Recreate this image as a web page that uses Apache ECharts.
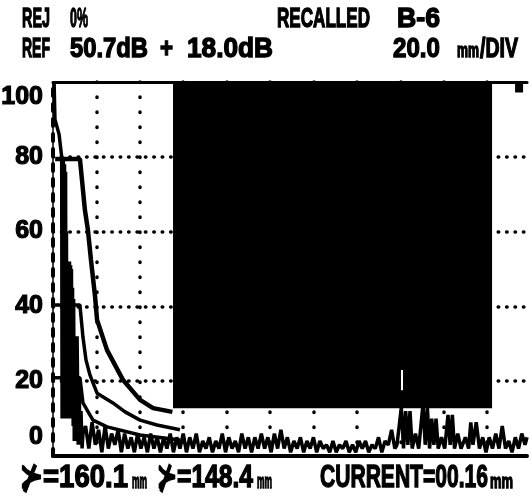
<!DOCTYPE html>
<html>
<head>
<meta charset="utf-8">
<script src="https://cdn.jsdelivr.net/npm/echarts@6/dist/echarts.min.js"></script>
<style>
  html, body { margin: 0; background: #fff; }
  #chart { width: 530px; height: 496px; }
</style>
</head>
<body>
<div id="chart"></div>
<script>
// amplitude axis (% full screen height)
const yTickLabels = { 0: '0', 20: '20', 40: '40', 60: '60', 80: '80', 100: '100' }

// A-scan: initial pulse + interface echo (mm, %)
const echoTrace = [
  [0.5, 100], [0.9, 90], [2.8, 86], [4.0, 80], [4.2, 10], [4.4, 80], [4.6, 10], [4.8, 79], [5.0, 10],
  [5.3, 78], [5.5, 10], [5.8, 76], [6.0, 10], [6.2, 60], [6.4, 10], [6.7, 52], [6.9, 10], [7.1, 52],
  [7.4, 10], [7.6, 52], [7.8, 10], [8.1, 51], [8.3, 10], [8.5, 50], [8.8, 10], [9.0, 45], [9.3, 8],
  [9.5, 42], [9.8, 4], [10.1, 30], [10.6, 4], [11.1, 32], [11.6, 3], [12.0, 20], [12.5, 3], [12.9, 12],
  [13.4, 2], [13.8, 6],
]

// grass / noise along the baseline
const grassTrace = [
  [15, 8], [16.5, 2], [18, 9], [19.5, 3], [21, 7], [22.5, 1], [24, 8], [25.5, 2], [27, 6], [28.5, 3],
  [30, 7], [31.5, 1], [33, 6], [34.5, 2], [36, 5], [37.5, 1], [39, 6], [40.5, 2], [42, 5], [43.5, 1],
  [45, 6], [46.5, 2], [48, 5], [49.5, 1], [51, 5], [52.5, 2], [54, 6], [55.5, 1], [57, 5], [58.5, 2],
  [60, 6], [61.5, 1], [63, 5], [64.5, 2], [66, 6], [67.5, 1], [69, 4], [70.5, 2], [72, 5], [73.5, 1],
  [75, 4], [76.5, 2], [78, 6], [79.5, 1], [81, 5], [82.5, 2], [84, 4], [85.5, 1], [87, 6], [88.5, 2],
  [90, 5], [91.5, 1], [93, 5], [94.5, 2], [96, 6], [97.5, 2], [99, 5], [100.5, 1], [102, 6], [103.5, 2],
  [105, 7], [106.5, 2], [108, 5], [109.5, 1], [111, 4], [112.5, 2], [114, 5], [115.5, 1], [117, 4], [118.5, 2],
  [120, 5], [121.5, 1], [123, 4], [124.5, 2], [126, 3], [127.5, 1], [129, 4], [130.5, 1], [132, 3], [133.5, 2],
  [135, 4], [136.5, 1], [138, 3], [139.5, 1], [141, 4], [142.5, 2], [144, 4], [145.5, 1], [147, 3], [148.5, 2],
  [150, 5], [151.5, 1], [153, 4], [154.5, 3], [156, 7], [157.5, 2],
]

// indication cluster near 160-200 mm
const clusterTrace = [
  [158.5, 3], [160.5, 13], [161.5, 2], [162.5, 12], [163.5, 3], [164.5, 12], [165.5, 2], [167, 6], [168.5, 2],
  [170.5, 14], [171.5, 3], [172.5, 13], [173.5, 2], [174.5, 10], [175.5, 3], [176.5, 10], [177.5, 2], [179, 5],
  [180.5, 2], [182, 11], [183, 3], [184, 11], [185, 2], [186.5, 6], [188, 2], [190, 5], [191.5, 2], [192.5, 9],
  [193.5, 3], [195, 9], [196.5, 2], [198, 5], [199.5, 1], [201, 5], [202.5, 2], [204, 6], [205.5, 2], [207, 8],
  [208.5, 2], [210, 4], [211.5, 1], [213, 5], [214.5, 2], [216, 6], [217.5, 3], [218.4, 5],
]

// DAC reference curves
const dac1 = [
  [1.0, 79.4], [12.4, 79.4], [12.9, 76.5], [14.7, 65.8], [16.1, 60.4], [17.5, 52.4], [19.4, 42.5],
  [20.3, 36.4], [24.9, 28.3], [32.3, 20.3], [40.1, 15.0], [46.1, 12.8], [55.0, 11.8],
]
const dac2 = [
  [0.5, 40.4], [12.4, 40.4], [13.8, 31.8], [15.2, 25.7], [17.0, 21.7], [20.3, 16.8], [27.6, 14.2],
  [33.2, 11.8], [40.1, 9.6], [47.9, 8.3], [58.5, 7.0],
]
const dac3 = [
  [0.5, 20.9], [12.4, 20.9], [13.8, 14.2], [18.4, 9.6], [24.9, 7.8], [40.1, 5.6], [58.5, 4.3],
]

// blanked region and small marker (mm, %)
const blankBox = [[55.3, 100], [202.3, 12.8]]
const cornerMark = [[212.9, 100], [216.6, 97.2]]
const glint = [[160.8, 17.6], [160.8, 23]]

const xMax = 218.4
const font = '"Liberation Sans", Arial, sans-serif'

const chart = echarts.init(document.getElementById('chart'))

// screen text squeezed into the width it takes on the instrument display
const ctx = document.createElement('canvas').getContext('2d')
function txt(x1, x2, text, size) {
  const f = `bold ${size}px ${font}`
  ctx.font = f
  const w = ctx.measureText(text).width
  return {
    type: 'text', x: x1, scaleX: (x2 - x1) / w,
    style: { text, fill: '#000', stroke: '#000', lineWidth: 1.4, font: f, verticalAlign: 'top' },
  }
}
const row = (y, items) => items.map(g => ({ ...g, y }))

const line = (data, width, extra) => ({
  type: 'line', data, showSymbol: false, symbol: 'none',
  lineStyle: { color: '#000', width }, z: 3, ...extra,
})

const labelStyle = {
  fontSize: 25, fontWeight: 'bold', fontFamily: font, color: '#000',
  textBorderColor: '#000', textBorderWidth: 1.2,
}

chart.setOption({
  animation: false,
  backgroundColor: '#fff',
  grid: { left: 53, right: 3, top: 82, bottom: 40, containLabel: false, outerBoundsMode: 'none' },
  xAxis: [
    {
      type: 'value', min: 0, max: xMax, interval: 20, position: 'bottom',
      axisLine: { show: true, onZero: false, lineStyle: { color: '#000', width: 4 } },
      axisTick: { show: false }, axisLabel: { show: false },
      splitLine: {
        show: true, showMinLine: false, showMaxLine: false,
        lineStyle: { color: '#000', width: 3.5, type: [0.5, 14.5], cap: 'round' },
      },
    },
    {
      type: 'value', min: 0, max: xMax, position: 'top',
      axisLine: { show: true, onZero: false, lineStyle: { color: '#000', width: 3 } },
      axisTick: { show: false }, axisLabel: { show: false }, splitLine: { show: false },
    },
  ],
  yAxis: [
    {
      type: 'value', min: 0, max: 100, interval: 20,
      axisLine: { show: true, lineStyle: { color: '#000', width: 4, type: [7, 8] } },
      axisTick: { show: false },
      axisLabel: {
        ...labelStyle, margin: 10,
        formatter: v => v === 100 ? '{t|100}' : v === 0 ? '{b|0}' : yTickLabels[v],
        rich: {
          t: { ...labelStyle, padding: [30, 0, 0, 0] },
          b: { ...labelStyle, padding: [0, 0, 38, 0] },
        },
      },
      splitLine: {
        show: true, showMinLine: false, showMaxLine: false,
        lineStyle: { color: '#000', width: 3.5, type: [0.5, 7.9], cap: 'round' },
      },
    },
    {
      type: 'value', min: 0, max: 100, position: 'right',
      axisLine: { show: true, lineStyle: { color: '#000', width: 1.5 } },
      axisTick: { show: false }, axisLabel: { show: false }, splitLine: { show: false },
    },
  ],
  series: [
    line(echoTrace.concat(grassTrace, clusterTrace), 3.5),
    line(dac1, 4.5),
    line(dac2, 3.5),
    line(dac3, 3.5),
    {
      type: 'line', data: [], z: 5,
      markArea: {
        silent: true,
        itemStyle: { color: '#000', opacity: 1 },
        data: [
          [{ coord: blankBox[0] }, { coord: blankBox[1] }],
          [{ coord: cornerMark[0] }, { coord: cornerMark[1] }],
        ],
      },
    },
    line(glint, 2, { lineStyle: { color: '#fff', width: 2 }, z: 6 }),
  ],
  graphic: [
    ...row(5, [txt(22, 50, 'REJ', 28), txt(70, 88, '0%', 28), txt(277, 370, 'RECALLED', 28), txt(397, 440, 'B-6', 28)]),
    ...row(35, [
      txt(22, 50, 'REF', 28), txt(70, 148, '50.7dB', 28), txt(160, 173, '+', 28), txt(187, 273, '18.0dB', 28),
      txt(393, 440, '20.0', 28), txt(480, 518, '/DIV', 28),
    ]),
    ...row(41, [txt(457, 479, 'mm', 20)]),
    ...row(462, [
      txt(20, 43, '⊁', 32), txt(43, 128, '=160.1', 32),
      txt(157, 177, '⊁', 32), txt(177, 253, '=148.4', 32),
      txt(320, 488, 'CURRENT=00.16', 32),
    ]),
    ...row(472, [txt(132, 147, 'mm', 20), txt(257, 272, 'mm', 20), txt(490, 513, 'mm', 20)]),
  ],
})
</script>
</body>
</html>
